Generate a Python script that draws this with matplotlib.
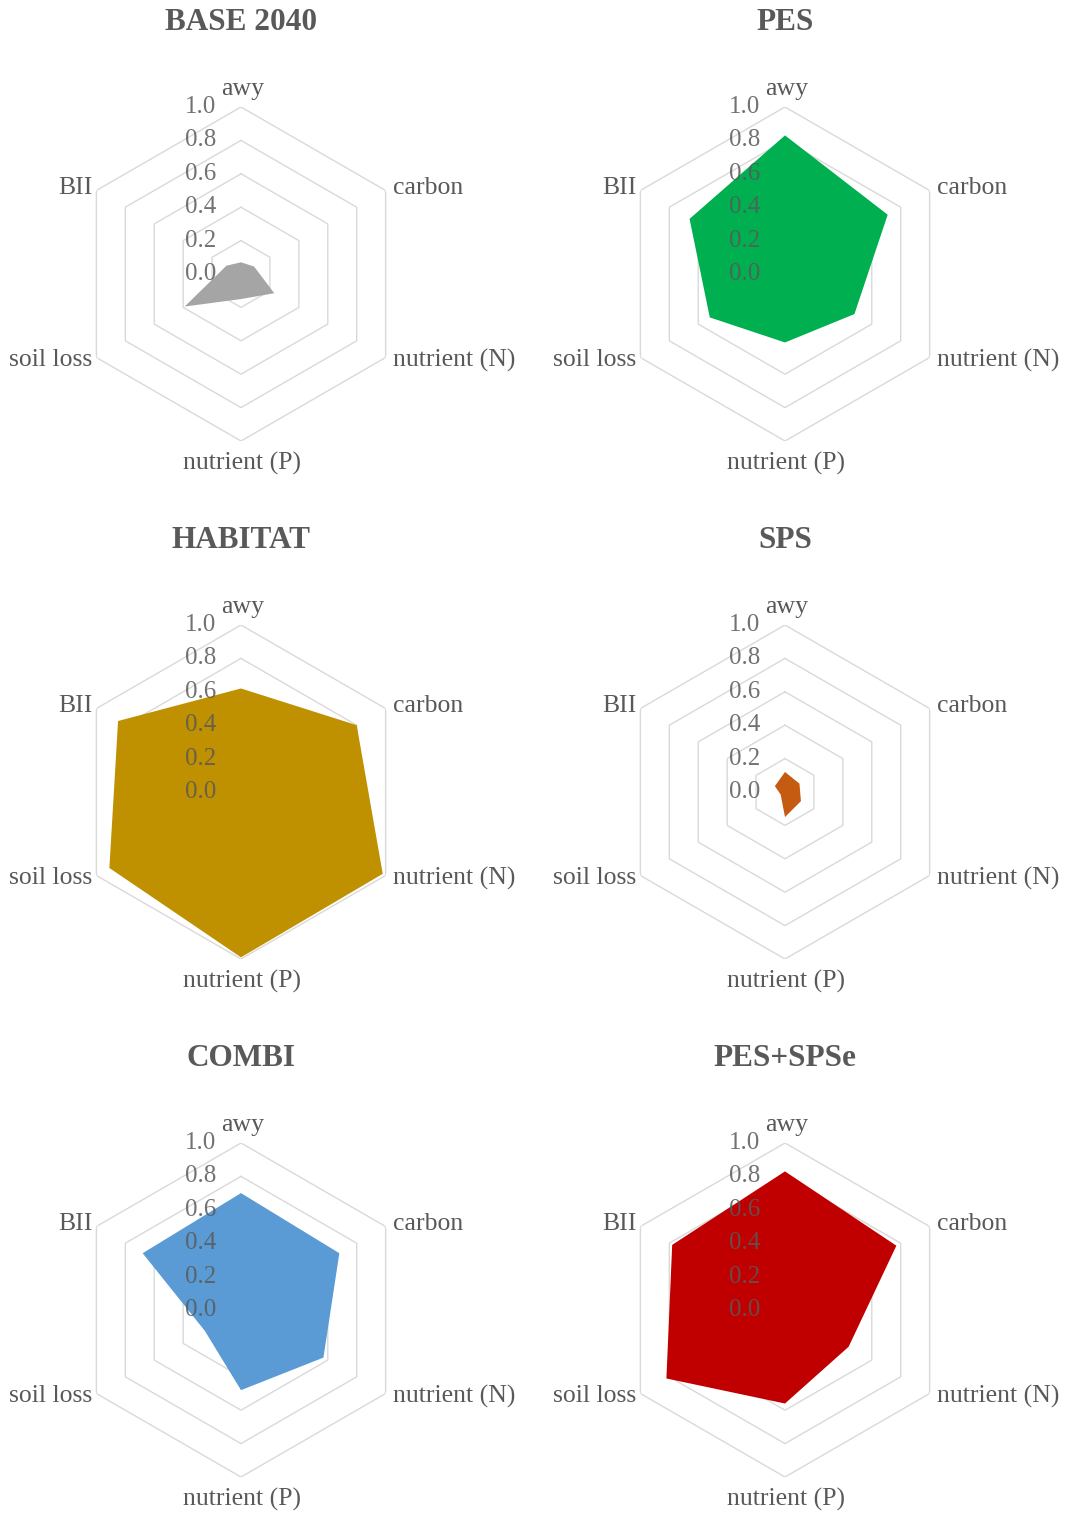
import numpy as np
import matplotlib
matplotlib.use("Agg")
import matplotlib.pyplot as plt

plt.rcParams['font.family'] = ['Liberation Serif', 'DejaVu Serif']

# Data
categories = ['awy', 'carbon', 'nutrient (N)', 'nutrient (P)', 'soil loss', 'BII']
scenarios = ['BASE 2040', 'PES', 'HABITAT', 'SPS', 'COMBI', 'PES+SPSe']
base_2040 = [0.07, 0.09, 0.23, 0.15, 0.39, 0.10]
pes = [0.83, 0.71, 0.48, 0.41, 0.52, 0.66]
habitat = [0.62, 0.80, 0.98, 0.99, 0.91, 0.85]
sps = [0.12, 0.10, 0.11, 0.15, 0.03, 0.07]
combi = [0.70, 0.68, 0.57, 0.48, 0.25, 0.68]
pes_spse = [0.83, 0.77, 0.44, 0.56, 0.82, 0.78]
colors = ['#A5A5A5', '#00B050', '#BF9000', '#C55A11', '#5B9BD5', '#C00000']
levels = [0.0, 0.2, 0.4, 0.6, 0.8, 1.0]

values = [base_2040, pes, habitat, sps, combi, pes_spse]

W, H = 1068, 1515
fig = plt.figure(figsize=(W / 100, H / 100), dpi=100)

col_x = [241, 785]
row_y = [274, 792, 1310]
R = 167
text_col = '#595959'

angles = np.arange(len(categories)) * 2 * np.pi / len(categories)
ang_closed = np.append(angles, angles[0])

# label placement: (offset x, offset y) in points, ha, va
lab_style = [
    ((1, 5), 'center', 'bottom'),
    ((5, 2), 'left', 'center'),
    ((5, -2), 'left', 'center'),
    ((1, -8), 'center', 'top'),
    ((-3, -2), 'right', 'center'),
    ((-3, 2), 'right', 'center'),
]

for i, (name, vals, c) in enumerate(zip(scenarios, values, colors)):
    cx = col_x[i % 2]
    cy = row_y[i // 2]
    ax = fig.add_axes([(cx - R) / W, 1 - (cy + R) / H, 2 * R / W, 2 * R / H],
                      projection='polar')
    ax.set_theta_zero_location('N')
    ax.set_theta_direction(-1)
    ax.set_ylim(0, 1)
    ax.set_axis_off()

    # hexagonal grid
    for lv in levels[1:]:
        ax.plot(ang_closed, [lv] * len(ang_closed), color='#d9d9d9', lw=1, zorder=1)

    v = np.append(vals, vals[0])
    ax.fill(ang_closed, v, color=c, lw=0, zorder=2)

    # category labels
    for ang, lab, (off, ha, va) in zip(angles, categories, lab_style):
        ax.annotate(lab, xy=(ang, 1.0), xytext=off, textcoords='offset points',
                    ha=ha, va=va, fontsize=18.5, color=text_col, zorder=5)

    # value axis labels
    for lv in levels:
        ax.annotate(f'{lv:.1f}', xy=(0, lv), xytext=(-18, 0), textcoords='offset points',
                    ha='right', va='center', fontsize=18, color=text_col,
                    alpha=0.85, zorder=5)

    fig.text(cx / W, 1 - (cy - 252) / H, name, ha='center', va='center',
             fontsize=22.5, fontweight='bold', color=text_col)

plt.savefig('out.png', dpi=100)
